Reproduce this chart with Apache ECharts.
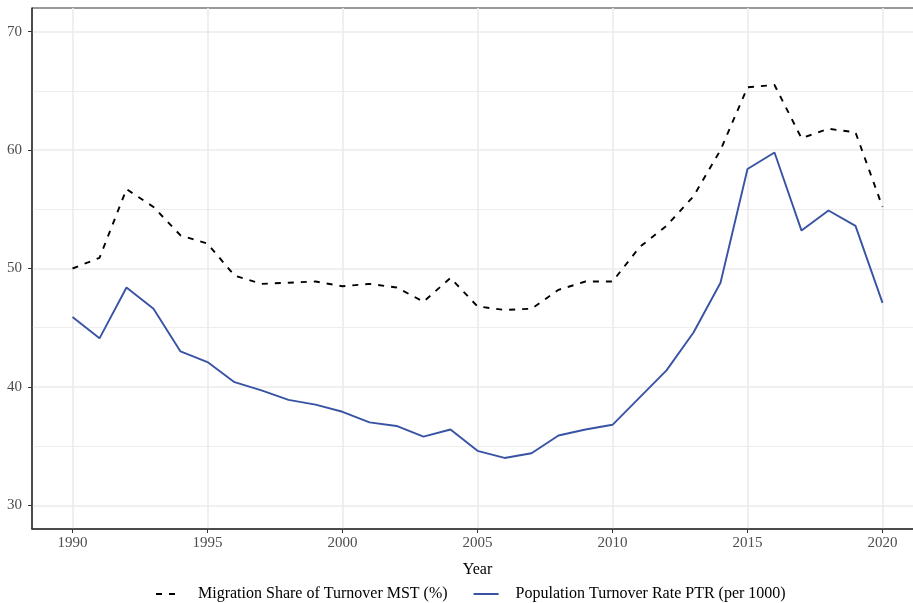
<!DOCTYPE html>
<html>
<head>
<meta charset="utf-8">
<script src="https://cdn.jsdelivr.net/npm/echarts@6/dist/echarts.min.js"></script>
<style>
  html, body { margin: 0; padding: 0; background: #fff; }
  #main { width: 913px; height: 603px; }
</style>
</head>
<body>
<div id="main"></div>
<script>
  const years = [1990, 1991, 1992, 1993, 1994, 1995, 1996, 1997, 1998, 1999,
    2000, 2001, 2002, 2003, 2004, 2005, 2006, 2007, 2008, 2009,
    2010, 2011, 2012, 2013, 2014, 2015, 2016, 2017, 2018, 2019, 2020]
  // Migration Share of Turnover MST (%)
  const mst = [50.0, 50.9, 56.7, 55.2, 52.8, 52.1, 49.4, 48.7, 48.8, 48.9,
    48.5, 48.7, 48.4, 47.2, 49.2, 46.8, 46.5, 46.6, 48.2, 48.9,
    48.9, 51.8, 53.6, 56.1, 60.0, 65.3, 65.5, 61.0, 61.8, 61.5, 55.2]
  // Population Turnover Rate PTR (per 1000)
  const ptr = [45.9, 44.1, 48.4, 46.6, 43.0, 42.1, 40.4, 39.7, 38.9, 38.5,
    37.9, 37.0, 36.7, 35.8, 36.4, 34.6, 34.0, 34.4, 35.9, 36.4,
    36.8, 39.1, 41.4, 44.6, 48.8, 58.4, 59.8, 53.2, 54.9, 53.6, 47.1]
  const xTicks = [1990, 1995, 2000, 2005, 2010, 2015, 2020]
  const yTicks = [30, 40, 50, 60, 70]
  const yMinor = [35, 45, 55, 65]

  const font = "'Liberation Serif', 'Times New Roman', serif"
  const myChart = echarts.init(document.getElementById('main'))

  myChart.setOption({
    animation: false,
    textStyle: { fontFamily: font },
    grid: {
      left: 32, top: 8, width: 891, height: 521,
      outerBoundsMode: 'none',
      show: true, borderColor: '#333', borderWidth: 1, backgroundColor: 'transparent'
    },
    legend: {
      left: 150,
      top: 581,
      itemWidth: 25,
      itemHeight: 14,
      itemGap: 25,
      itemStyle: { opacity: 0 },
      textStyle: { fontFamily: font, fontSize: 16, color: '#000', padding: [0, 0, 0, 12] },
      data: ['Migration Share of Turnover MST (%)', 'Population Turnover Rate PTR (per 1000)']
    },
    xAxis: {
      type: 'value',
      min: 1988.5,
      max: 2021.5,
      name: 'Year',
      nameLocation: 'middle',
      nameGap: 33,
      nameTextStyle: { fontFamily: font, fontSize: 16, color: '#000' },
      axisLine: { show: true, onZero: false, lineStyle: { color: '#333', width: 1.5 } },
      axisTick: { show: true, length: 4, customValues: xTicks, lineStyle: { color: '#333', width: 1 } },
      axisLabel: {
        customValues: xTicks, margin: 7, fontSize: 15, color: '#4d4d4d', fontFamily: font,
        formatter: (v) => String(v)
      },
      splitLine: { show: true, lineStyle: { color: '#ebebeb', width: 1.6 } }
    },
    yAxis: [
      {
        type: 'value',
        min: 28,
        max: 72,
        axisLine: { show: true, onZero: false, lineStyle: { color: '#333', width: 1.5 } },
        axisTick: { show: true, length: 4, customValues: yTicks, lineStyle: { color: '#333', width: 1 } },
        axisLabel: { customValues: yTicks, margin: 10, fontSize: 15, color: '#4d4d4d', fontFamily: font },
        splitLine: { show: true, lineStyle: { color: '#ebebeb', width: 1.6 } }
      },
      {
        type: 'value',
        min: 28,
        max: 72,
        position: 'left',
        axisLine: { show: false },
        axisTick: { show: false, customValues: yMinor },
        axisLabel: { show: false },
        splitLine: { show: true, lineStyle: { color: '#eeeeee', width: 1 } }
      }
    ],
    series: [
      {
        name: 'Migration Share of Turnover MST (%)',
        type: 'line',
        yAxisIndex: 0,
        symbol: 'none',
        z: 3,
        lineStyle: { color: '#000', width: 1.9, type: [6, 7] },
        itemStyle: { color: '#000' },
        data: years.map((y, i) => [y, mst[i]])
      },
      {
        name: 'Population Turnover Rate PTR (per 1000)',
        type: 'line',
        yAxisIndex: 0,
        symbol: 'none',
        z: 3,
        lineStyle: { color: '#3953a4', width: 1.9 },
        itemStyle: { color: '#3953a4' },
        data: years.map((y, i) => [y, ptr[i]])
      }
    ]
  })
</script>
</body>
</html>
